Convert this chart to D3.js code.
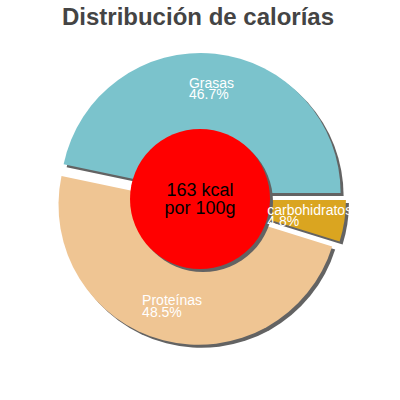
<!DOCTYPE html>
<html>
<head>
<meta charset="utf-8">
<script src="https://cdn.jsdelivr.net/npm/d3@7"></script>
<style>
  body { margin: 0; background: #fff; }
  svg { display: block; }
  text { font-family: Arial, "Liberation Sans", Helvetica, sans-serif; }
</style>
</head>
<body>
<script>
const width = 400;
const height = 400;

// data
const nutrients = ["Grasas", "Proteínas", "carbohidratos"];
const percents = [46.7, 48.5, 4.8];
const colours = ["#7bc3cc", "#efc593", "#daa520"];
const centreLines = ["163 kcal", "por 100g"];
const titleText = "Distribución de calorías";

const cx = 200, cy = 199;
const radius = 140;
const innerRadius = 70;
const explode = 6;
const shadow = { dx: 3, dy: 3, fill: "#636363" };

const svg = d3.select("body").append("svg")
  .attr("width", width)
  .attr("height", height)
  .attr("viewBox", [0, 0, width, height]);

svg.append("text")
  .attr("x", width / 2 - 2)
  .attr("y", 25)
  .attr("text-anchor", "middle")
  .attr("font-weight", "bold")
  .attr("font-size", "24px")
  .attr("fill", "#444")
  .text(titleText);

const slices = nutrients.map((name, i) => ({ name, value: percents[i], colour: colours[i] }));

// counter clockwise from 3 o'clock
const pie = d3.pie()
  .sort(null)
  .value(d => d.value)
  .startAngle(Math.PI / 2)
  .endAngle(Math.PI / 2 - 2 * Math.PI);

const arcs = pie(slices);

const arc = d3.arc().innerRadius(0).outerRadius(radius);
const labelArc = d3.arc().innerRadius(radius * 0.75).outerRadius(radius * 0.75);

function offset(d) {
  const mid = (d.startAngle + d.endAngle) / 2;
  return [Math.sin(mid) * explode, -Math.cos(mid) * explode];
}

const chart = svg.append("g").attr("transform", `translate(${cx}, ${cy})`);

// shadows first
chart.selectAll("path.shadow")
  .data(arcs)
  .enter()
  .append("path")
  .attr("class", "shadow")
  .attr("fill", shadow.fill)
  .attr("d", arc)
  .attr("transform", d => {
    const [ox, oy] = offset(d);
    return `translate(${ox + shadow.dx}, ${oy + shadow.dy})`;
  });

chart.selectAll("path.slice")
  .data(arcs)
  .enter()
  .append("path")
  .attr("class", "slice")
  .attr("fill", d => d.data.colour)
  .attr("d", arc)
  .attr("transform", d => {
    const [ox, oy] = offset(d);
    return `translate(${ox}, ${oy})`;
  });

// red centre with its shadow
chart.append("circle")
  .attr("cx", shadow.dx)
  .attr("cy", shadow.dy)
  .attr("r", innerRadius)
  .attr("fill", shadow.fill);

chart.append("circle")
  .attr("r", innerRadius)
  .attr("fill", "#ff0000");

const centre = chart.append("text")
  .attr("text-anchor", "middle")
  .attr("font-size", "18px")
  .attr("fill", "#000");

centre.selectAll("tspan")
  .data(centreLines)
  .enter()
  .append("tspan")
  .attr("x", 0)
  .attr("y", (d, i) => i === 0 ? -3 : 14.5)
  .text(d => d);

// slice labels: block centred on the label point, lines left aligned
const labels = chart.selectAll("text.label")
  .data(arcs)
  .enter()
  .append("text")
  .attr("class", "label")
  .attr("font-size", "14px")
  .attr("fill", "#fff");

labels.each(function (d) {
  const t = d3.select(this);
  const [lx, ly] = labelArc.centroid(d);
  const [ox, oy] = offset(d);
  const px = lx + ox, py = ly + oy;
  const lines = [d.data.name, d.data.value.toFixed(1) + "%"];
  t.selectAll("tspan")
    .data(lines)
    .enter()
    .append("tspan")
    .attr("x", px)
    .attr("y", (l, i) => py - 1 + i * 11.5)
    .text(l => l);
  const w = this.getBBox().width;
  t.selectAll("tspan").attr("x", px - w / 2);
});
</script>
</body>
</html>
